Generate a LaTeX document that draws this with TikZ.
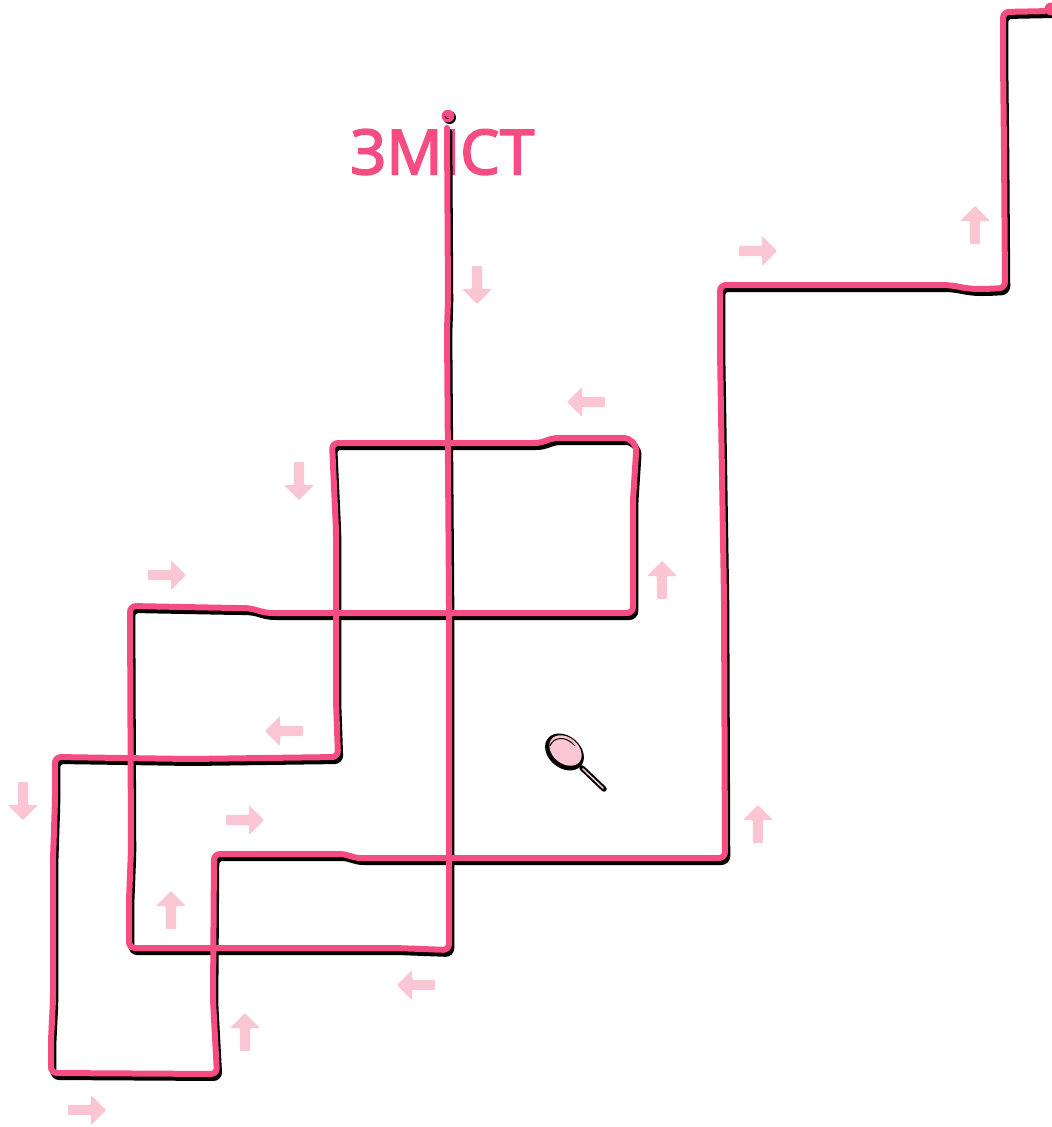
\documentclass[tikz,border=0pt]{standalone}
\usepackage{fontspec}
\newfontfamily\headfont[FakeBold=2.6]{Noto Sans}
\definecolor{trailpink}{HTML}{F54D82}
\definecolor{arrowpink}{HTML}{FAC6D3}
\tikzset{
    trailshadow/.style={draw=black, line width=6pt, rounded corners=6pt, line cap=round, shift={(2.3pt,-4pt)}},
    trailline/.style={draw=trailpink, line width=6pt, rounded corners=6pt, line cap=round},
    dirarrow/.pic={
        \fill [arrowpink, rounded corners=1pt] (-19,-5.2) -- (4,-5.2) -- (4,-15) -- (19,0) -- (4,15)
              -- (4,5.2) -- (-19,5.2) -- cycle;
    },
    uparrow/.style={rotate=90},
    downarrow/.style={rotate=270},
    leftarrow/.style={rotate=180},
    rightarrow/.style={rotate=0}
}
\newcommand{\trailpath}{(447,128) -- (448,300) -- (447,330) -- (449,600) -- (449,920) -- (449,950) --
    (395,948) -- (129,948) -- (129,900) -- (131,850) -- (130,606) --
    (235,608) .. controls (258,608) and (258,613) .. (280,613) -- (633,613) --
    (633,500) [rounded corners=14pt] -- (637,438) [rounded corners=6pt] --
    (565,438) .. controls (548,438) and (545,443) .. (528,443) -- (332,443) -- (336,530) -- (336,700) --
    (338,757) -- (190,759) -- (55,757) -- (55,800) -- (53,860) -- (53,1000) -- (51,1040) --
    (51,1073) -- (217,1074) -- (213,1000) -- (214,854) --
    (332,854) .. controls (350,854) and (350,858) .. (368,858) -- (725,858) -- (724,600) -- (720,350) --
    (720,285) -- (935,285) .. controls (958,285) and (962,289) .. (985,289) -- (1005,288) -- (1004,150) --
    (1003,60) -- (1003,12) -- (1052,11)}
\begin{document}
\begin{tikzpicture}[x=1pt,y=-1pt]
    \useasboundingbox (0,0) rectangle (1052,1127);

    % Title
    \node (title) [text=trailpink, inner sep=0pt] at (442.5,152)
          {\fontsize{62pt}{62pt}\headfont ЗМІСТ};

    % Trail
    \draw [trailshadow] \trailpath;
    \draw [trailline] \trailpath;
    \fill [black] (449.5,117.5) circle (6.5pt);
    \fill [trailpink] (448,116) circle (6.3pt);
    \draw [black, line width=0.7pt] (445,116) arc (180:300:2.5pt);
    \fill [black] (1052,11) circle (6.5pt);
    \fill [trailpink] (1051,9) circle (6.5pt);

    % Direction arrows
    \pic [downarrow] at (477,285) {dirarrow};
    \pic [leftarrow] at (586,402) {dirarrow};
    \pic [downarrow] at (299,481) {dirarrow};
    \pic [rightarrow] at (167,575) {dirarrow};
    \pic [uparrow] at (662,580) {dirarrow};
    \pic [leftarrow] at (284,731) {dirarrow};
    \pic [downarrow] at (23,801) {dirarrow};
    \pic [rightarrow] at (245,820) {dirarrow};
    \pic [uparrow] at (171,910) {dirarrow};
    \pic [uparrow] at (758,824) {dirarrow};
    \pic [leftarrow] at (416,985) {dirarrow};
    \pic [uparrow] at (245,1032) {dirarrow};
    \pic [rightarrow] at (87,1110) {dirarrow};
    \pic [rightarrow] at (758,251) {dirarrow};
    \pic [uparrow] at (975,225) {dirarrow};

    % Spoon
    \draw [black, line width=5.5pt, line cap=round] (582,768) -- (604,789);
    \draw [arrowpink, line width=1.5pt, line cap=round] (583,769) -- (603,788);
    \fill [black, rotate around={-40:(564.5,752)}] (564.5,752) ellipse (21.5pt and 16pt);
    \fill [arrowpink, rotate around={-40:(565.5,750.5)}] (565.5,750.5) ellipse (18pt and 13pt);
    \draw [black, line width=1pt] (550,746) .. controls (553,737) and (566,735) .. (575,746);
\end{tikzpicture}
\end{document}
